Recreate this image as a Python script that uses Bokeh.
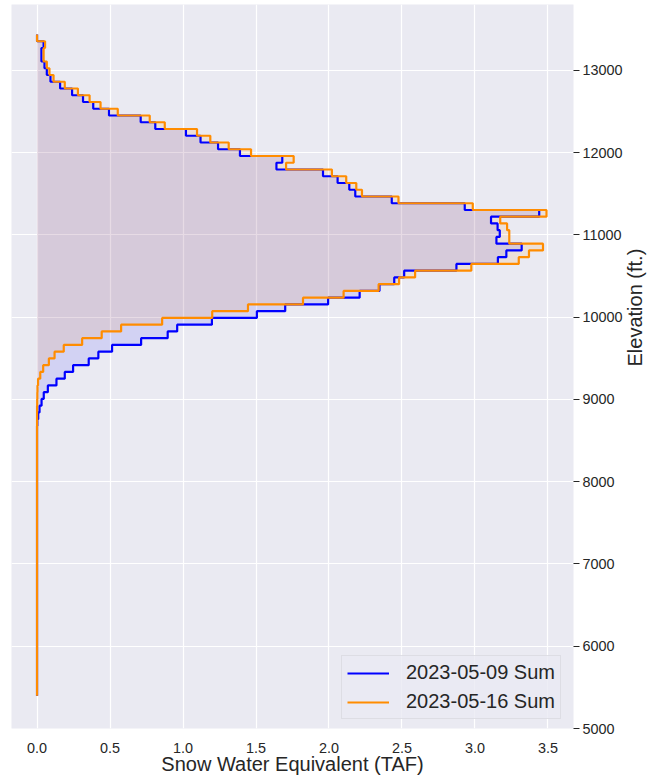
import math
from bokeh.plotting import figure
from bokeh.models import Range1d, FixedTicker, PrintfTickFormatter, Legend, LegendItem
from bokeh.embed import file_html
from bokeh.resources import INLINE

# Elevation bands: 25 m bands from 4095 m (top) down to 1645 m, converted to feet
band_top_m = 4095
band_width_m = 25
m_to_ft = 3.28084

# Summed SWE (TAF) per band, listed from the highest band downward
swe_2023_05_09 = [
    0.0, 0.045, 0.03, 0.03, 0.051, 0.067, 0.092, 0.158, 0.24, 0.315,
    0.385, 0.493, 0.71, 0.81, 1.02, 1.12, 1.24, 1.39, 1.68, 1.64,
    1.959, 2.059, 2.139, 2.18, 2.43, 2.93, 3.44, 3.11, 3.155, 3.17,
    3.147, 3.32, 3.215, 3.157, 2.873, 2.515, 2.447, 2.346, 2.21, 1.994,
    1.70, 1.506, 1.198, 0.96, 0.895, 0.713, 0.514, 0.42, 0.354, 0.247,
    0.19, 0.133, 0.074, 0.046, 0.031, 0.017, 0.008, 0.002, 0.0, 0.0,
    0.0, 0.0, 0.0, 0.0, 0.0, 0.0, 0.0, 0.0, 0.0, 0.0,
    0.0, 0.0, 0.0, 0.0, 0.0, 0.0, 0.0, 0.0, 0.0, 0.0,
    0.0, 0.0, 0.0, 0.0, 0.0, 0.0, 0.0, 0.0, 0.0, 0.0,
    0.0, 0.0, 0.0, 0.0, 0.0, 0.0, 0.0, 0.0,
]
swe_2023_05_16 = [
    0.0, 0.055, 0.045, 0.045, 0.067, 0.085, 0.113, 0.19, 0.28, 0.36,
    0.435, 0.553, 0.772, 0.875, 1.096, 1.187, 1.313, 1.466, 1.758, 1.706,
    2.02, 2.118, 2.187, 2.226, 2.476, 2.985, 3.49, 3.173, 3.22, 3.235,
    3.235, 3.466, 3.37, 3.30, 2.975, 2.59, 2.48, 2.34, 2.10, 1.822,
    1.445, 1.20, 0.857, 0.576, 0.443, 0.309, 0.183, 0.12, 0.081, 0.042,
    0.022, 0.007, 0.003, 0.002, 0.001, 0.0, 0.0, 0.0, 0.0, 0.0,
    0.0, 0.0, 0.0, 0.0, 0.0, 0.0, 0.0, 0.0, 0.0, 0.0,
    0.0, 0.0, 0.0, 0.0, 0.0, 0.0, 0.0, 0.0, 0.0, 0.0,
    0.0, 0.0, 0.0, 0.0, 0.0, 0.0, 0.0, 0.0, 0.0, 0.0,
    0.0, 0.0, 0.0, 0.0, 0.0, 0.0, 0.0, 0.0,
]
series_labels = ["2023-05-09 Sum", "2023-05-16 Sum"]
x_ticks = [0.0, 0.5, 1.0, 1.5, 2.0, 2.5, 3.0, 3.5]
y_ticks = [5000, 6000, 7000, 8000, 9000, 10000, 11000, 12000, 13000]

FONT = "Liberation Sans"
TXT = "#262626"
BG = "#eaeaf2"


def step_coords(vals):
    xs, ys = [], []
    for i, v in enumerate(vals):
        upper = (band_top_m - i * band_width_m) * m_to_ft
        lower = (band_top_m - (i + 1) * band_width_m) * m_to_ft
        xs += [v, v]
        ys += [upper, lower]
    return xs, ys


p = figure(
    frame_width=562, frame_height=724,
    x_range=Range1d(-0.175, 3.675), y_range=Range1d(5000, 13800),
    y_axis_location="right",
    output_backend="svg", toolbar_location=None,
    min_border=0, min_border_left=11, min_border_top=4,
)
p.background_fill_color = BG
p.border_fill_color = "white"
p.outline_line_color = None

p.grid.grid_line_color = "white"
p.grid.grid_line_width = 1.2
p.xgrid.ticker = FixedTicker(ticks=x_ticks)
p.ygrid.ticker = FixedTicker(ticks=y_ticks)

colors = ["blue", "darkorange"]
renderers = []
for vals, col in zip([swe_2023_05_09, swe_2023_05_16], colors):
    xs, ys = step_coords(vals)
    p.patch([0] + xs + [0], [ys[0]] + ys + [ys[-1]],
            fill_color=col, fill_alpha=0.1, line_color=None)
for vals, col in zip([swe_2023_05_09, swe_2023_05_16], colors):
    xs, ys = step_coords(vals)
    r = p.line(xs, ys, line_color=col, line_width=2.2)
    renderers.append(r)

# axes
xa = p.xaxis[0]
xa.ticker = FixedTicker(ticks=x_ticks)
xa.formatter = PrintfTickFormatter(format="%.1f")
xa.axis_label = "Snow Water Equivalent (TAF)"
xa.major_tick_line_color = None
xa.minor_tick_line_color = None
xa.axis_line_color = None
xa.major_label_standoff = 8
xa.axis_label_standoff = -3

ya = p.yaxis[0]
ya.ticker = FixedTicker(ticks=y_ticks)
ya.axis_label = "Elevation (ft.)"
ya.major_tick_out = 6
ya.major_tick_in = 0
ya.major_tick_line_color = TXT
ya.major_tick_line_width = 1.2
ya.minor_tick_line_color = None
ya.axis_line_color = None
ya.major_label_standoff = 3
ya.axis_label_standoff = 9
ya.axis_label_orientation = math.pi / 2

for ax in (xa, ya):
    ax.major_label_text_font = FONT
    ax.major_label_text_font_size = "14.4px"
    ax.major_label_text_color = TXT
    ax.axis_label_text_font = FONT
    ax.axis_label_text_font_size = "20px"
    ax.axis_label_text_font_style = "normal"
    ax.axis_label_text_color = TXT

legend = Legend(
    items=[LegendItem(label=series_labels[i], renderers=[renderers[i]]) for i in range(2)],
    location=(330, 9),
    label_text_font=FONT, label_text_font_size="20px", label_text_color=TXT,
    glyph_width=42, glyph_height=20, label_height=20, label_standoff=17,
    padding=5, spacing=6, margin=0,
    background_fill_color=BG, background_fill_alpha=0.8,
    border_line_color="#cfcfd6", border_line_width=1,
)
p.add_layout(legend)

open("out.html", "w").write(file_html(p, INLINE))
